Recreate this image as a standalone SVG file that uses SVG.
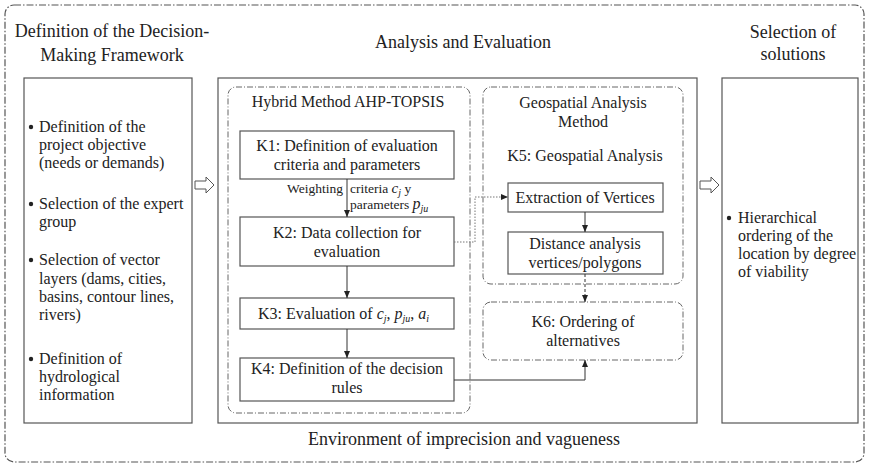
<svg xmlns="http://www.w3.org/2000/svg" width="869" height="466" viewBox="0 0 869 466" font-family="'Liberation Serif', 'Times New Roman', 'DejaVu Serif', serif">
<defs>
<marker id="ah" markerWidth="8" markerHeight="8" refX="7" refY="4" orient="auto" markerUnits="userSpaceOnUse">
<path d="M0,1 L7,4 L0,7 Z" fill="#222"/>
</marker>
<style>
text{font-family:'Liberation Serif','Times New Roman','DejaVu Serif',serif;fill:#222}
.t18{font-size:18px}
.t16{font-size:16px}
.t13{font-size:13.5px}
.mid{text-anchor:middle}
.box{fill:#fff;stroke:#555;stroke-width:1.2}
.dd{fill:none;stroke:#666;stroke-width:1;stroke-dasharray:6 2 1 2}
.ddo{fill:none;stroke:#555;stroke-width:1.2;stroke-dasharray:7 2 1.5 2}
.con{fill:none;stroke:#333;stroke-width:1}
.dot{fill:none;stroke:#777;stroke-width:1;stroke-dasharray:1.5 1.5}
.hol{fill:#fff;stroke:#555;stroke-width:1}
.i{font-style:italic}
.sub{font-style:italic;font-size:10px}
</style>
</defs>
<rect x="5" y="5" width="859" height="457" rx="9" class="ddo"/>

<g id="title-left">
<text class="t18 mid" x="112" y="37">Definition of the Decision-</text>
<text class="t18 mid" x="112" y="61">Making Framework</text>
</g>
<g id="title-mid">
<text class="t18 mid" x="463" y="48">Analysis and Evaluation</text>
</g>
<g id="title-right">
<text class="t18 mid" x="793" y="38">Selection of</text>
<text class="t18 mid" x="793" y="60">solutions</text>
</g>

<g id="left-box">
<rect x="24" y="78" width="168" height="345" class="box"/>
<circle cx="31" cy="127" r="2.2" fill="#222"/>
<text class="t16" x="39" y="132">Definition of the</text>
<text class="t16" x="39" y="150">project objective</text>
<text class="t16" x="39" y="168">(needs or demands)</text>
<circle cx="31" cy="204" r="2.2" fill="#222"/>
<text class="t16" x="39" y="209">Selection of the expert</text>
<text class="t16" x="39" y="227">group</text>
<circle cx="31" cy="260" r="2.2" fill="#222"/>
<text class="t16" x="39" y="265">Selection of vector</text>
<text class="t16" x="39" y="284">layers (dams, cities,</text>
<text class="t16" x="39" y="302">basins, contour lines,</text>
<text class="t16" x="39" y="320">rivers)</text>
<circle cx="31" cy="359" r="2.2" fill="#222"/>
<text class="t16" x="39" y="364">Definition of</text>
<text class="t16" x="39" y="382">hydrological</text>
<text class="t16" x="39" y="400">information</text>
</g>

<g id="arrow-left">
<polygon points="195,181 206,181 206,177 214,185 206,193 206,189 195,189" class="hol"/>
</g>

<g id="mid-box">
<rect x="218" y="78" width="479" height="345" class="box"/>
</g>

<g id="hybrid">
<rect x="228" y="87" width="242" height="326" rx="8" class="dd"/>
<text class="t16 mid" x="348" y="107">Hybrid Method AHP-TOPSIS</text>
</g>

<g id="k1">
<rect x="240" y="131" width="214" height="48" class="box"/>
<text class="t16 mid" x="347" y="151">K1: Definition of evaluation</text>
<text class="t16 mid" x="347" y="170">criteria and parameters</text>
</g>
<g id="k2">
<rect x="240" y="217" width="214" height="49" class="box"/>
<text class="t16 mid" x="347" y="238">K2: Data collection for</text>
<text class="t16 mid" x="347" y="257">evaluation</text>
</g>
<g id="k3">
<rect x="240" y="298" width="214" height="31" class="box"/>
<text class="t16" x="258" y="319">K3: Evaluation of <tspan class="i">c</tspan><tspan class="sub" dy="3">j</tspan><tspan dy="-3">, </tspan><tspan class="i">p</tspan><tspan class="sub" dy="3">ju</tspan><tspan dy="-3">, </tspan><tspan class="i">a</tspan><tspan class="sub" dy="3">i</tspan></text>
</g>
<g id="k4">
<rect x="240" y="358" width="214" height="43" class="box"/>
<text class="t16 mid" x="347" y="374">K4: Definition of the decision</text>
<text class="t16 mid" x="347" y="393">rules</text>
</g>

<g id="geo">
<rect x="483" y="87" width="200" height="197" rx="8" class="dd"/>
<text class="t16 mid" x="583" y="108">Geospatial Analysis</text>
<text class="t16 mid" x="583" y="127">Method</text>
<text class="t16 mid" x="585" y="161">K5: Geospatial Analysis</text>
</g>
<g id="extraction">
<rect x="508" y="183" width="155" height="29" class="box"/>
<text class="t16 mid" x="585" y="203">Extraction of Vertices</text>
</g>
<g id="distance">
<rect x="508" y="232" width="155" height="42" class="box"/>
<text class="t16 mid" x="585" y="249">Distance analysis</text>
<text class="t16 mid" x="585" y="268">vertices/polygons</text>
</g>
<g id="k6">
<rect x="483" y="302" width="200" height="58" rx="8" class="dd"/>
<text class="t16 mid" x="583" y="327">K6: Ordering of</text>
<text class="t16 mid" x="583" y="346">alternatives</text>
</g>

<g id="arrow-right">
<polygon points="700,181 711,181 711,177 719,185 711,193 711,189 700,189" class="hol"/>
</g>

<g id="right-box">
<rect x="722" y="78" width="136" height="345" class="box"/>
<circle cx="729" cy="218" r="2.2" fill="#222"/>
<text class="t16" x="738" y="223">Hierarchical</text>
<text class="t16" x="738" y="241">ordering of the</text>
<text class="t16" x="738" y="259">location by degree</text>
<text class="t16" x="738" y="277">of viability</text>
</g>

<g id="bottom">
<text class="t18 mid" x="464" y="445">Environment of imprecision and vagueness</text>
</g>

<g id="connectors">
<path d="M347,179 V217" class="con" marker-end="url(#ah)"/>
<text class="t13" x="343" y="193" text-anchor="end">Weighting</text>
<text class="t13" x="350" y="193">criteria <tspan class="i" font-size="15">c</tspan><tspan class="sub" dy="3">j</tspan><tspan dy="-3"> y</tspan></text>
<text class="t13" x="350" y="209">parameters <tspan class="i" font-size="16">p</tspan><tspan class="sub" dy="3">ju</tspan></text>
<path d="M347,266 V298" class="con" marker-end="url(#ah)"/>
<path d="M347,329 V358" class="con" marker-end="url(#ah)"/>
<path d="M454,242 H475 V197 H508" class="dot" marker-end="url(#ah)"/>
<path d="M585,212 V232" class="con" marker-end="url(#ah)"/>
<path d="M585,274 V302" class="con" stroke-dasharray="3 2" marker-end="url(#ah)"/>
<path d="M454,380 H585 V360" class="con" marker-end="url(#ah)"/>
</g>
</svg>
